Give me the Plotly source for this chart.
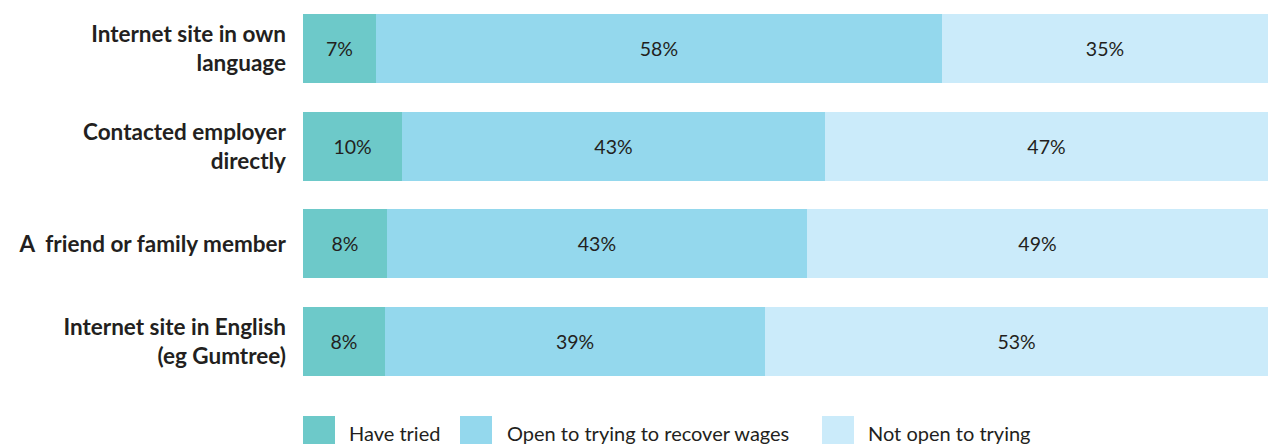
import plotly.graph_objects as go

categories = [
    "Internet site in own<br>language",
    "Contacted employer<br>directly",
    "A\u00a0 friend or family member",
    "Internet site in English<br>(eg Gumtree)",
]
series_names = ["Have tried", "Open to trying to recover wages", "Not open to trying"]
have_tried = [7.56, 10.26, 8.70, 8.50]
open_to_trying = [58.65, 43.83, 43.52, 39.38]
not_open = [33.79, 45.91, 47.78, 52.12]
have_tried_labels = ["7%", "10%", "8%", "8%"]
open_labels = ["58%", "43%", "43%", "39%"]
not_open_labels = ["35%", "47%", "49%", "53%"]

colors = ["#6dc9c9", "#94d8ed", "#cbebfa"]
W, H = 1268, 444
ML, MR, MT, MB = 303, 0, 0, 54
PW, PH = W - ML - MR, H - MT - MB

fig = go.Figure()
for name, vals, labels, col in zip(
    series_names,
    [have_tried, open_to_trying, not_open],
    [have_tried_labels, open_labels, not_open_labels],
    colors,
):
    fig.add_trace(go.Bar(
        y=categories, x=vals, orientation="h", name=name,
        marker=dict(color=col, line=dict(width=0)),
        text=labels, textposition="inside", insidetextanchor="middle",
        textfont=dict(family="Lato", size=19.5, color="#231f20"),
        showlegend=False,
    ))

# custom legend (large swatches)
def px_x(px):
    return (px - ML) / PW

def px_y(py):
    return (MT + PH - py) / PH

legend_items = [(303, 335, 347), (460, 492, 505), (822, 854, 866)]
for (x0, x1, tx), name, col in zip(legend_items, series_names, colors):
    fig.add_shape(type="rect", xref="paper", yref="paper",
                  x0=px_x(x0), x1=px_x(x1), y0=px_y(444), y1=px_y(416),
                  fillcolor=col, line=dict(width=0))
    fig.add_annotation(xref="paper", yref="paper", x=px_x(tx), y=px_y(433),
                       text=name, showarrow=False, xanchor="left", yanchor="middle",
                       font=dict(family="Lato", size=20, color="#231f20"))

fig.update_layout(
    width=W, height=H, autosize=False,
    margin=dict(l=ML, r=MR, t=MT, b=MB),
    barmode="stack", bargap=0.29,
    plot_bgcolor="white", paper_bgcolor="white",
    xaxis=dict(range=[0, 100], visible=False, fixedrange=True),
    yaxis=dict(autorange="reversed", showgrid=False, zeroline=False, showline=False,
               ticks="", ticklabelstandoff=16,
               tickfont=dict(family="Lato", size=22.5, color="#231f20", weight="bold")),
)
post = (
    "document.body.style.margin='0px';"
    "document.body.style.overflow='hidden';"
    "var gd=document.getElementById('{plot_id}');"
    "Plotly.relayout(gd,{width:%d,height:%d});" % (W, H)
)
fig.write_html("out.html", post_script=post,
                config={"responsive": False, "displayModeBar": False})
